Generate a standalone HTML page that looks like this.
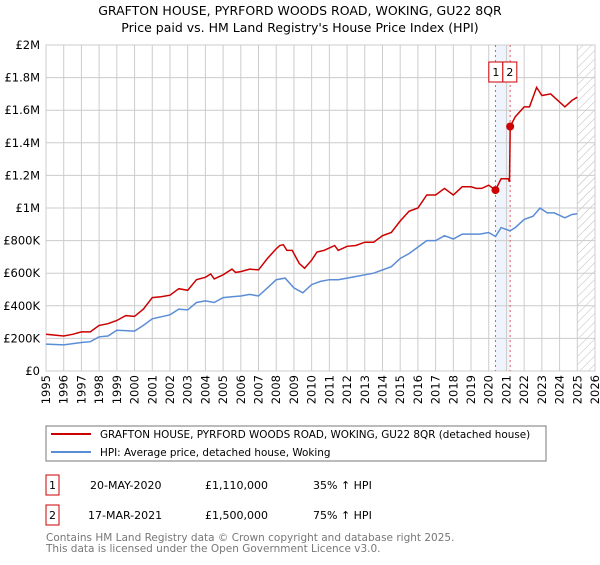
<!DOCTYPE html>
<html><head><meta charset="utf-8"><style>
body{margin:0;background:#fff;font-family:"Liberation Sans","DejaVu Sans",sans-serif;}
svg text{font-family:"DejaVu Sans","Liberation Sans",sans-serif;}
</style></head><body>
<svg id="c" width="600" height="560" xmlns="http://www.w3.org/2000/svg">
<defs><pattern id="hatch" width="6" height="6" patternUnits="userSpaceOnUse" patternTransform="rotate(45)"><line x1="0" y1="0" x2="0" y2="6" stroke="#bbb" stroke-width="1"/></pattern></defs>
<text x="300" y="15" text-anchor="middle" font-size="12.5" fill="#000">GRAFTON HOUSE, PYRFORD WOODS ROAD, WOKING, GU22 8QR</text>
<text x="300" y="32" text-anchor="middle" font-size="12.5" fill="#000">Price paid vs. HM Land Registry's House Price Index (HPI)</text>
<g id="grid"></g><g id="marks"></g>
<rect x="46" y="426" width="500" height="35" fill="#fff" stroke="#777"/>
<line x1="51" y1="434" x2="91" y2="434" stroke="#cc0000" stroke-width="2"/>
<text x="100" y="438" font-size="10.4">GRAFTON HOUSE, PYRFORD WOODS ROAD, WOKING, GU22 8QR (detached house)</text>
<line x1="51" y1="452" x2="91" y2="452" stroke="#5b8dd6" stroke-width="2"/>
<text x="100" y="456" font-size="10.4">HPI: Average price, detached house, Woking</text>
<g font-size="11">
<rect x="46" y="475" width="13" height="20" fill="none" stroke="#cc0000"/>
<text x="52.5" y="489" text-anchor="middle">1</text>
<text x="90" y="489">20-MAY-2020</text><text x="205" y="489">£1,110,000</text><text x="313" y="489">35% ↑ HPI</text>
<rect x="46" y="505" width="13" height="20" fill="none" stroke="#cc0000"/>
<text x="52.5" y="519" text-anchor="middle">2</text>
<text x="88" y="519">17-MAR-2021</text><text x="205" y="519">£1,500,000</text><text x="313" y="519">75% ↑ HPI</text>
</g>
<text x="46" y="541" font-size="10.5" fill="#777">Contains HM Land Registry data © Crown copyright and database right 2025.</text>
<text x="46" y="552" font-size="10.5" fill="#777">This data is licensed under the Open Government Licence v3.0.</text>
</svg>
<script>
const yTicks=[0,200,400,600,800,1000,1200,1400,1600,1800,2000];
const yTickLabels=["£0","£200K","£400K","£600K","£800K","£1M","£1.2M","£1.4M","£1.6M","£1.8M","£2M"];
const xTicks=[1995,1996,1997,1998,1999,2000,2001,2002,2003,2004,2005,2006,2007,2008,2009,2010,2011,2012,2013,2014,2015,2016,2017,2018,2019,2020,2021,2022,2023,2024,2025,2026];
const propT=[1995,1995.5,1996,1996.5,1997,1997.5,1998,1998.5,1999,1999.5,2000,2000.5,2001,2001.5,2002,2002.5,2003,2003.5,2004,2004.3,2004.5,2005,2005.5,2005.7,2006,2006.5,2007,2007.5,2008,2008.2,2008.4,2008.6,2008.9,2009.3,2009.6,2010,2010.3,2010.7,2011,2011.3,2011.5,2012,2012.5,2013,2013.5,2014,2014.5,2015,2015.5,2016,2016.5,2017,2017.5,2018,2018.5,2019,2019.3,2019.6,2020,2020.38,2020.7,2021.1,2021.17,2021.21,2021.5,2022,2022.3,2022.7,2023,2023.5,2024,2024.3,2024.7,2025];
const propV=[225,220,215,225,240,240,280,290,310,340,335,380,450,455,465,505,495,560,575,595,565,590,625,605,610,625,620,690,750,770,775,740,740,660,630,680,730,740,755,770,740,765,770,790,790,830,850,920,980,1000,1080,1080,1120,1080,1130,1130,1120,1120,1140,1110,1180,1180,1160,1500,1560,1620,1620,1740,1690,1700,1650,1620,1660,1680];
const hpiT=[1995,1996,1997,1997.5,1998,1998.5,1999,2000,2000.5,2001,2002,2002.5,2003,2003.5,2004,2004.5,2005,2005.5,2006,2006.5,2007,2007.5,2008,2008.5,2009,2009.5,2010,2010.5,2011,2011.5,2012,2012.5,2013,2013.5,2014,2014.5,2015,2015.5,2016,2016.5,2017,2017.5,2018,2018.5,2019,2019.5,2020,2020.38,2020.7,2021.2,2021.5,2022,2022.5,2022.9,2023.3,2023.7,2024.3,2024.7,2025];
const hpiV=[165,160,175,180,210,215,250,245,280,320,345,380,375,420,430,420,450,455,460,470,460,510,560,570,510,480,530,550,560,560,570,580,590,600,620,640,690,720,760,800,800,830,810,840,840,840,850,825,880,860,880,930,950,1000,970,970,940,960,965];
const saleT=[2020.38,2021.21];
const saleV=[1110,1500];
const saleLabels=["1","2"];
const X0=46,X1=595,Y0=371,Y1=45;
const xs=t=>X0+(t-1995)/(2026-1995)*(X1-X0);
const ys=v=>Y0-v/2000*(Y0-Y1);
const NS="http://www.w3.org/2000/svg";
function mk(tag,attrs,parent){const e=document.createElementNS(NS,tag);for(const k in attrs)e.setAttribute(k,attrs[k]);parent.appendChild(e);return e;}
const g=document.getElementById('grid'),m=document.getElementById('marks');
let band=mk('rect',{x:xs(saleT[0]),y:Y1,width:xs(saleT[1])-xs(saleT[0]),height:Y0-Y1,fill:'#eef3fc'},g);


let hat=mk('rect',{x:xs(2025),y:Y1,width:X1-xs(2025),height:Y0-Y1,fill:'url(#hatch)'},g);


yTicks.forEach((v,i)=>{
 let l=mk('line',{x1:X0,x2:X1,y1:ys(v),y2:ys(v),stroke:'#ccc'},g);
 
 
 let t=mk('text',{x:40,y:ys(v)+4,'text-anchor':'end','font-size':'11.5'},g);t.textContent=yTickLabels[i];
 
 
});
xTicks.forEach(yr=>{
 let l=mk('line',{x1:xs(yr),x2:xs(yr),y1:Y1,y2:Y0,stroke:'#ccc'},g);
 
 
 let t=mk('text',{x:0,y:0,'font-size':'11.5','text-anchor':'end',transform:`translate(${xs(yr)+4},${Y0+4}) rotate(-90)`},g);t.textContent=yr;
 
 
});
mk('rect',{x:X0,y:Y1,width:X1-X0,height:Y0-Y1,fill:'none',stroke:'#ccc'},g);
const mid=(xs(saleT[0])+xs(saleT[1]))/2;
saleT.forEach((t,i)=>{
 let l=mk('line',{x1:xs(t),x2:xs(t),y1:Y1,y2:Y0,stroke:'#e06060','stroke-dasharray':'2,3'},m);
 
 
});
saleT.forEach((t,i)=>{
 let bx=mid-14+i*14;
 let r=mk('rect',{x:bx,y:62,width:14,height:20,fill:'#fff',stroke:'#cc0000'},m);
 
 
 let tx=mk('text',{x:bx+7,y:76,'text-anchor':'middle','font-size':'11'},m);tx.textContent=saleLabels[i];
 
 
});
const pathOf=(T,V)=>T.map((t,i)=>(i?'L':'M')+xs(t).toFixed(1)+','+ys(V[i]).toFixed(1)).join('');
let hp=mk('path',{d:pathOf(hpiT,hpiV),fill:'none',stroke:'#5b8dd6','stroke-width':1.5},m);


let pp=mk('path',{d:pathOf(propT,propV),fill:'none',stroke:'#cc0000','stroke-width':1.5},m);


saleT.forEach((t,i)=>{
 let c=mk('circle',{cx:xs(t),cy:ys(saleV[i]),r:4,fill:'#cc0000'},m);
 
 
});
</script>
</body></html>
